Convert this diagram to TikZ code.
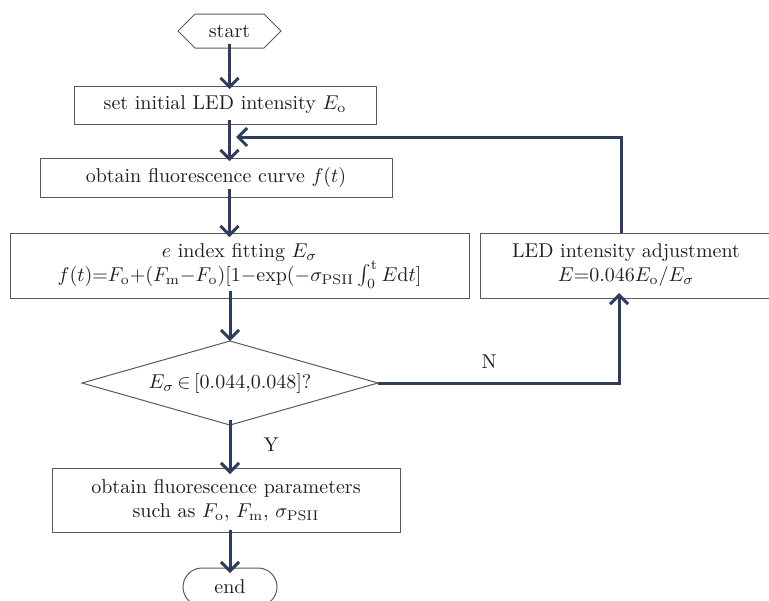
\documentclass[tikz,border=0pt]{standalone}
\usetikzlibrary{arrows.meta,shapes.geometric,shapes.symbols,shapes.misc}
\definecolor{flownavy}{HTML}{2E3D5C}
\definecolor{flowgray}{HTML}{5A5A5A}

\begin{document}
\begin{tikzpicture}[y=0.50pt, x=0.50pt, yscale=-1, inner sep=0pt, outer sep=0pt,
  flowbox/.style={draw=flowgray, line width=0.5pt, align=center, text=black!88},
  flowarr/.style={draw=flownavy, line width=1.5pt, line join=miter,
    -{Straight Barb[length=4.5pt,width=9pt,line width=1.5pt]}},
  flowtag/.style={text=black!88}]
\useasboundingbox (0,0) rectangle (769,600);
\node[flowbox, signal, signal to=west and east, minimum width=51.5pt,
  minimum height=17pt] (start) at (229.5,31) {start};
\node[flowbox, minimum width=151pt, minimum height=19pt] (setled) at (225,105)
  {set initial LED intensity $E_{\mathrm{o}}$};
\node[flowbox, minimum width=176pt, minimum height=19.5pt] (curve) at (216,177.5)
  {obtain fluorescence curve $f(t)$};
\node[flowbox, minimum width=229.5pt, minimum height=32.5pt] (fitting) at (239.5,265.5)
  {$e$ index fitting $E_{\sigma}$\\
   $f(t){=}F_{\mathrm{o}}{+}(F_{\mathrm{m}}{-}F_{\mathrm{o}})[1{-}\mathrm{exp}(-\sigma_{\mathrm{PSII}}\int_0^{\mathrm{t}}E\mathrm{d}t]$};
\node[flowbox, minimum width=146pt, minimum height=32.5pt] (adjust) at (626,265.5)
  {LED intensity adjustment\\ $E{=}0.046E_{\mathrm{o}}/E_{\sigma}$};
\node[flowbox, diamond, aspect=3.5, minimum width=148pt, minimum height=42pt]
  (check) at (230,383) {$E_{\sigma}\,{\in}\,[0.044{,}0.048]$?};
\node[flowbox, minimum width=174pt, minimum height=32pt] (params) at (226,500)
  {obtain fluorescence parameters\\ such as $F_{\mathrm{o}}$, $F_{\mathrm{m}}$, $\sigma_{\mathrm{PSII}}$};
\node[flowbox, rounded rectangle, minimum width=47pt, minimum height=19pt]
  (end) at (230,587) {end};
\node[flowtag] (tagN) at (489,362) {N};
\node[flowtag] (tagY) at (271,445) {Y};
\coordinate (fbtop) at (621,137);
\coordinate (fbend) at (236,137);
\coordinate (nturn) at (619,383);
\draw[flowarr] ([yshift=-2pt]start.south) -- ([yshift=1.5pt]start.south |- setled.north);
\draw[flowarr] ([yshift=-2pt]setled.south -| start.south) -- ([yshift=1.5pt]start.south |- curve.north);
\draw[flowarr] ([yshift=-4pt]curve.south -| start.south) -- ([yshift=2pt]start.south |- fitting.north);
\draw[flowarr] ([yshift=-3.5pt]fitting.south -| check.north) -- (check.north);
\draw[flowarr] ([yshift=-2.5pt]check.south) -- ([yshift=3pt]params.north -| check.south);
\draw[flowarr] ([yshift=-1pt]params.south -| end.north) -- ([yshift=2.5pt]end.north);
\draw[flowarr] (adjust.north -| fbtop) -- (fbtop) -- (fbend);
\draw[flowarr] (check.east) -- (nturn) -- ([yshift=-2.5pt]adjust.south -| nturn);
\end{tikzpicture}
\end{document}
